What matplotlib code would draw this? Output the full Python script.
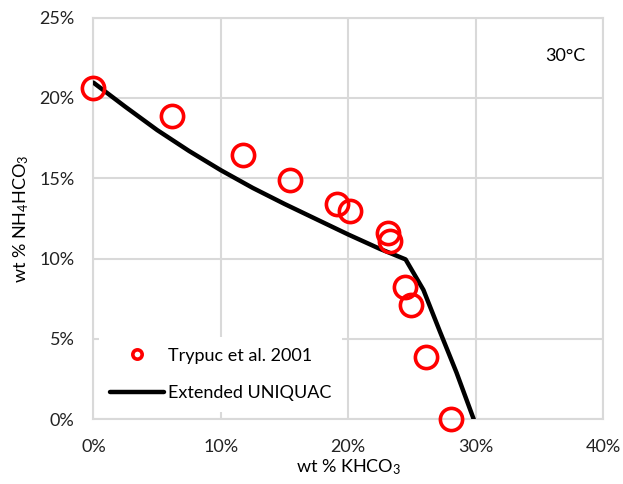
import matplotlib
matplotlib.use("Agg")
import matplotlib.pyplot as plt
from matplotlib.ticker import FuncFormatter

# Experimental data (Trypuc et al. 2001), wt %
exp_khco3 = [0.0, 6.2, 11.7, 15.4, 19.1, 20.1, 23.1, 23.3, 24.45, 24.95, 26.1, 28.05]
exp_nh4hco3 = [20.6, 18.9, 16.45, 14.9, 13.4, 12.95, 11.6, 11.1, 8.25, 7.1, 3.9, 0.0]

# Extended UNIQUAC model curve, wt %
model_khco3 = [0.0, 2.5, 5.0, 7.5, 10.0, 12.5, 15.0, 17.5, 20.0, 22.5, 24.5, 25.2, 25.9, 27.2, 28.5, 29.85]
model_nh4hco3 = [20.95, 19.45, 18.0, 16.7, 15.5, 14.4, 13.4, 12.45, 11.5, 10.6, 9.95, 9.0, 8.05, 5.45, 2.9, 0.0]

x_ticks = [0, 10, 20, 30, 40]
y_ticks = [0, 5, 10, 15, 20, 25]

plt.rcParams['font.family'] = ['Lato', 'DejaVu Sans']
plt.rcParams['mathtext.fontset'] = 'custom'
plt.rcParams['mathtext.rm'] = 'Lato'
plt.rcParams['mathtext.it'] = 'Lato'

fig = plt.figure(figsize=(6.23, 4.84), dpi=100)
ax = fig.add_axes([0.150, 0.1337, 0.818, 0.830])

grid_c = '#d9d9d9'
ax.plot(model_khco3, model_nh4hco3, color='black', lw=3.2, solid_capstyle='round',
        label='Extended UNIQUAC', zorder=3)
ax.plot(exp_khco3, exp_nh4hco3, linestyle='none', marker='o', markersize=16,
        markerfacecolor='none', markeredgecolor='#ff0000', markeredgewidth=2.6,
        label='Trypuc et al. 2001', zorder=4, clip_on=False)

ax.set_xlim(0, 40)
ax.set_ylim(0, 25)
ax.set_xticks(x_ticks)
ax.set_yticks(y_ticks)
fmt = FuncFormatter(lambda v, p: f"{v:.0f}%")
ax.xaxis.set_major_formatter(fmt)
ax.yaxis.set_major_formatter(fmt)
ax.tick_params(length=0, labelsize=13, colors='#222222')
ax.tick_params(axis='y', pad=13.5)
ax.tick_params(axis='x', pad=14)
ax.grid(True, color=grid_c, lw=1.5)
ax.set_axisbelow(True)
for s in ax.spines.values():
    s.set_color(grid_c)
    s.set_linewidth(1.5)

ax.set_xlabel('wt % KHCO$_3$', fontsize=13, labelpad=2)
ax.set_ylabel('wt % NH$_4$HCO$_3$', fontsize=13, labelpad=6)

ax.text(0.925, 0.905, '30°C', transform=ax.transAxes, fontsize=13, ha='center', va='center')

h, l = ax.get_legend_handles_labels()
leg = ax.legend(h[::-1], l[::-1], loc='lower left', bbox_to_anchor=(0.011, 0.018),
                borderaxespad=0, frameon=True, fontsize=13, handlelength=3.0,
                markerscale=0.42, borderpad=0.6, labelspacing=1.2, handletextpad=0.2,
                fancybox=False)
leg.get_frame().set_edgecolor('none')
leg.get_frame().set_facecolor('white')
leg.get_frame().set_alpha(1)

fig.savefig('out.png', dpi=100)
